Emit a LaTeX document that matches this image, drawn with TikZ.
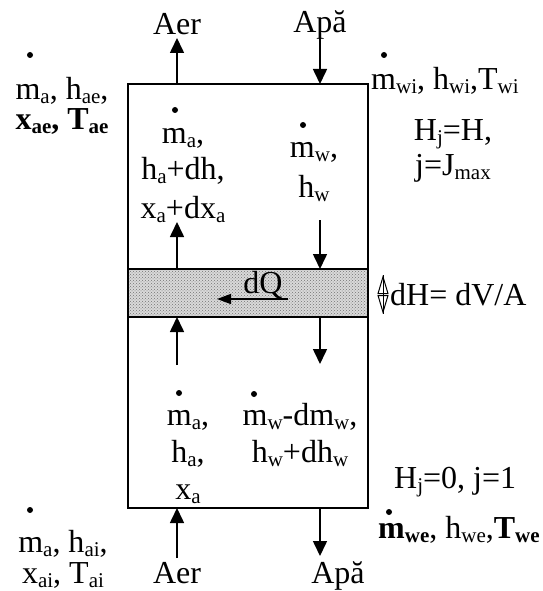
\documentclass[tikz,border=0pt]{standalone}
\usepackage{fontspec}
\setmainfont{Liberation Serif}
\usetikzlibrary{arrows.meta,patterns}
\newcommand{\sbs}[1]{\raisebox{-4pt}{\fontsize{21}{21}\selectfont #1}}
\begin{document}
\begin{tikzpicture}[x=1pt,y=-1pt,
  txt/.style={inner sep=0pt, anchor=base, font=\fontsize{32}{36}\selectfont},
  txtw/.style={txt, anchor=base west},
  mdot/.style={circle, fill=black, inner sep=0pt, minimum size=6pt},
  flow/.style={line width=1.6pt, -{Triangle[length=15pt,width=14pt]}},
  heat/.style={line width=1.4pt, -{Triangle[length=14pt,width=10pt]}},
  wall/.style={line width=2pt}]
\useasboundingbox (0,0) rectangle (542,591);
% column
\coordinate (bx1) at (128,84);
\coordinate (bx2) at (368,508);
\fill[gray!30] (128,269) rectangle (368,317);
\fill[pattern=crosshatch dots, pattern color=gray!90!black] (128,269) rectangle (368,317);
\draw[wall] (bx1) rectangle (bx2);
\draw[wall] (128,269) -- (368,269) (128,317) -- (368,317);
% coordinates for flows
\coordinate (aTopIn) at (177,84);   \coordinate (aTopOut) at (177,38);
\coordinate (wTopIn) at (320,37);   \coordinate (wTopOut) at (320,84);
\coordinate (aUpS) at (177,269);    \coordinate (aUpE) at (177,222);
\coordinate (wUpS) at (320,220);    \coordinate (wUpE) at (320,269);
\coordinate (aLoS) at (177,365);    \coordinate (aLoE) at (177,317);
\coordinate (wLoS) at (320,317);    \coordinate (wLoE) at (320,364);
\coordinate (aBotS) at (177,558);   \coordinate (aBotE) at (177,508);
\coordinate (wBotS) at (320,508);   \coordinate (wBotE) at (320,556);
\coordinate (qS) at (288,299);      \coordinate (qE) at (217,299);
\coordinate (dh1) at (383,275);     \coordinate (dh2) at (383,314);
\draw[flow] (aTopIn) -- (aTopOut);
\draw[flow] (wTopIn) -- (wTopOut);
\draw[flow] (aUpS) -- (aUpE);
\draw[flow] (wUpS) -- (wUpE);
\draw[flow] (aLoS) -- (aLoE);
\draw[flow] (wLoS) -- (wLoE);
\draw[flow] (aBotS) -- (aBotE);
\draw[flow] (wBotS) -- (wBotE);
\draw[heat] (qS) -- (qE);
\draw[line width=1pt] (dh1) -- (dh2);
\draw[line width=1pt, {Triangle[open,length=19pt,width=11pt]}-{Triangle[open,length=19pt,width=11pt]}] (dh1) -- (dh2);
% labels outside
\node[txt] (aerT) at (177,35) {Aer};
\node[txt] (apaT) at (320,33) {Apă};
\node[txt] (aerB) at (177,583) {Aer};
\node[txt] (apaB) at (338,583) {Apă};
% top-left
\node[mdot] (d1) at (30,55) {};
\node[txt] (tl1) at (62,100) {m\sbs{a}, h\sbs{ae},};
\node[txt] (tl2) at (62,129) {\textbf{x\sbs{ae}, T\sbs{ae}}};
% top-right
\node[mdot] (d2) at (384,55) {};
\node[txtw] (tr1) at (371,90) {m\sbs{wi}, h\sbs{wi},T\sbs{wi}};
\node[txt] (tr2) at (453,140) {H\sbs{j}=H,};
\node[txt] (tr3) at (453,175) {j=J\sbs{max}};
% inside top
\node[mdot] (d3) at (175,110) {};
\node[txt] (it1) at (183,143) {m\sbs{a},};
\node[txt] (it2) at (183,179) {h\sbs{a}+dh,};
\node[txt] (it3) at (183,218) {x\sbs{a}+dx\sbs{a}};
\node[mdot] (d4) at (303,125) {};
\node[txt] (iw1) at (314,157) {m\sbs{w},};
\node[txt] (iw2) at (314,197) {h\sbs{w}};
% band
\node[txt] (dq) at (263,293) {dQ};
\node[txtw] (dh) at (390,305) {dH= dV/A};
% inside bottom
\node[mdot] (d5) at (179,393) {};
\node[txt] (ib1) at (188,425) {m\sbs{a},};
\node[txt] (ib2) at (188,462) {h\sbs{a},};
\node[txt] (ib3) at (188,499) {x\sbs{a}};
\node[mdot] (d6) at (254,394) {};
\node[txt] (iv1) at (300,425) {m\sbs{w}-dm\sbs{w},};
\node[txt] (iv2) at (300,462) {h\sbs{w}+dh\sbs{w}};
% bottom-right
\node[txtw] (br1) at (394,488) {H\sbs{j}=0, j=1};
\node[mdot] (d7) at (389,512) {};
\node[txtw] (br2) at (378,538) {\textbf{m\sbs{we}}, h\sbs{we},\textbf{T\sbs{we}}};
% bottom-left
\node[mdot] (d8) at (30,510) {};
\node[txt] (bl1) at (63,552) {m\sbs{a}, h\sbs{ai},};
\node[txt] (bl2) at (63,583) {x\sbs{ai}, T\sbs{ai}};
\end{tikzpicture}
\end{document}
